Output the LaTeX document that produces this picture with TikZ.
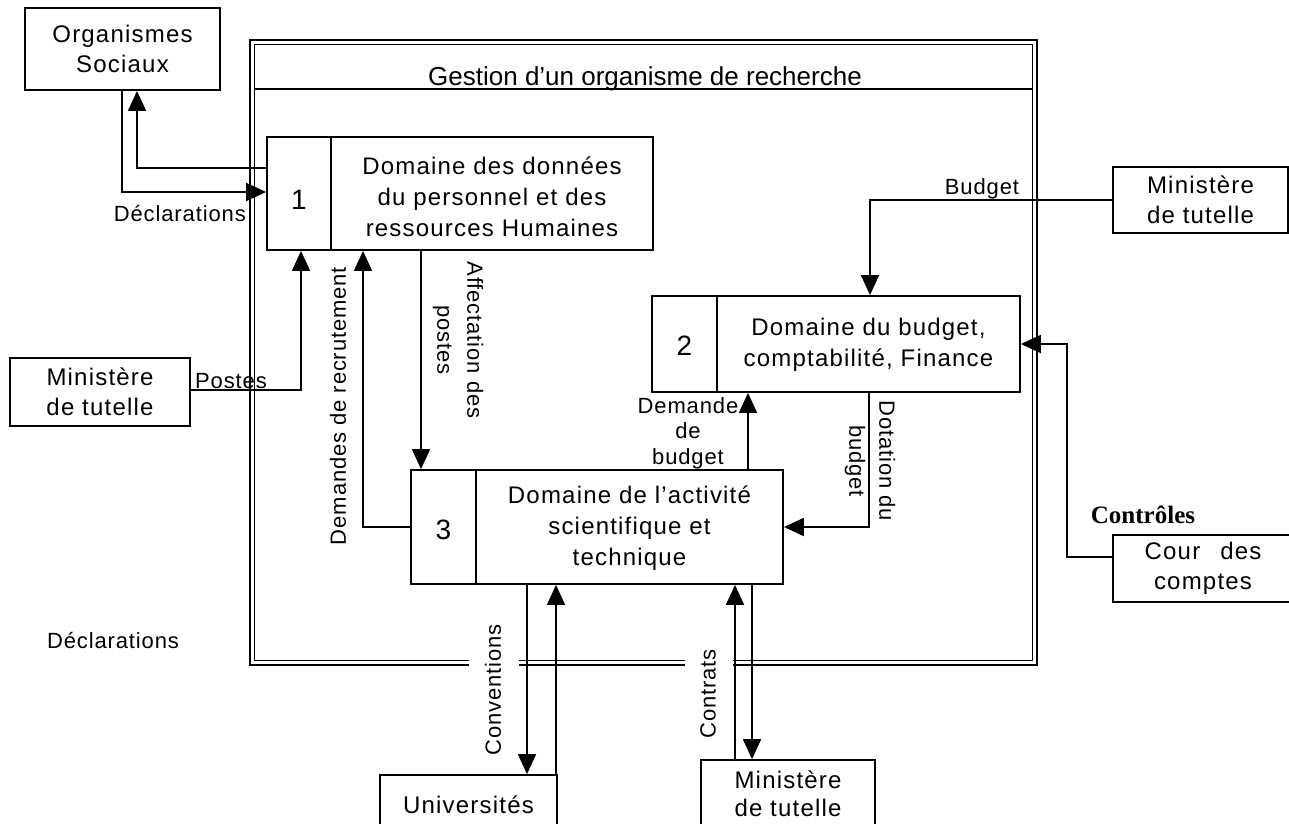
\documentclass[tikz,border=0pt]{standalone}
\usepackage{fontspec}
\setmainfont{Liberation Sans}
\newfontfamily\boxfont[LetterSpace=5]{Liberation Sans}
\newfontfamily\lblfont[LetterSpace=4]{Liberation Sans}
\newfontfamily\ctrlfont{Liberation Serif}
\usetikzlibrary{arrows.meta}

\tikzset{
  entity/.style={draw, line width=1.8pt, inner sep=0pt, align=center,
    font=\boxfont\fontsize{24}{30}\selectfont},
  procbox/.style={draw, line width=1.8pt, inner sep=0pt},
  boxtext/.style={inner sep=0pt, align=center, font=\boxfont\fontsize{24}{31}\selectfont},
  numtext/.style={inner sep=0pt, font=\fontsize{28}{30}\selectfont},
  flow/.style={line width=1.8pt, -{Triangle[length=20pt,width=18pt]}},
  lbl/.style={inner sep=0pt, align=center, font=\lblfont\fontsize{22}{30}\selectfont},
  frame/.style={line width=1.3pt},
}

\begin{document}
\begin{tikzpicture}[x=1pt, y=-1pt]
\path[use as bounding box, clip] (0,0) rectangle (1289,823);
\fill[white] (0,0) rectangle (1289,823);

% system frame (double line, open where the bottom flows pass)
\draw[frame] (469,665) -| (250,40) -| (1037,665) -- (733,665);
\draw[frame] (519,665) -- (685,665);
\draw[frame] (469,660.5) -| (254.5,44.5) -| (1032.5,660.5) -- (733,660.5);
\draw[frame] (519,660.5) -- (685,660.5);
\draw[frame] (254.5,89) -- (1032.5,89);
\node[inner sep=0pt, anchor=base, font=\fontsize{26}{28}\selectfont] (title) at (645,85)
  {Gestion d’un organisme de recherche};

% external entities
\node[entity, minimum width=195pt, minimum height=82pt] (org) at (122.5,49) {Organismes\\Sociaux};
\node[entity, minimum width=180pt, minimum height=68pt] (mt1) at (100,392) {Ministère\\de tutelle};
\node[entity, minimum width=175pt, minimum height=66pt] (mt2) at (1200.5,200) {Ministère\\de tutelle};
\node[entity, minimum width=180pt, minimum height=67pt] (cour) at (1203,568.5) {Cour\hspace{20pt}des\\comptes};
\node[entity, minimum width=177pt, minimum height=60pt] (univ) at (468.5,805) {Universités};
\node[entity, minimum width=174pt, minimum height=68pt,
  font=\boxfont\fontsize{24}{28}\selectfont] (mt3) at (788,794) {Ministère\\de tutelle};

% processes
\node[procbox, minimum width=386pt, minimum height=113pt] (b1) at (460,193.5) {};
\draw[line width=1.8pt] (b1.north -| 331,0) -- (b1.south -| 331,0);
\node[numtext] (n1) at (299,200) {1};
\node[boxtext] (t1) at (492,197) {Domaine des données\\du personnel et des\\ressources Humaines};

\node[procbox, minimum width=368pt, minimum height=96pt] (b2) at (836,344) {};
\draw[line width=1.8pt] (b2.north -| 717,0) -- (b2.south -| 717,0);
\node[numtext] (n2) at (684.5,346) {2};
\node[boxtext] (t2) at (868.5,345) {Domaine du budget,\\comptabilité, Finance};

\node[procbox, minimum width=372pt, minimum height=114pt] (b3) at (597,527) {};
\draw[line width=1.8pt] (b3.north -| 476,0) -- (b3.south -| 476,0);
\node[numtext] (n3) at (443.5,530) {3};
\node[boxtext] (t3) at (629.5,528) {Domaine de l’activité\\scientifique et\\technique};

% flows
\draw[flow] (b1.west |- 0,168) -| (org.south -| 137,0);
\draw[flow] (org.south -| 122,0) |- (b1.west |- 0,192);
\draw[flow] (mt1.east |- 0,390) -| (b1.south -| 301,0);
\draw[flow] (b3.west) -| (b1.south -| 363,0);
\draw[flow] (b1.south -| 421,0) -- (b3.north -| 421,0);
\draw[flow] (mt2.west) -| (b2.north -| 870,0);
\draw[flow] (b3.north -| 748,0) -- (b2.south -| 748,0);
\draw[flow] (b2.south -| 869,0) |- (b3.east);
\draw[flow] (cour.west |- 0,557) -| (b2.east -| 1067,0) -- (b2.east);
\draw[flow] (b3.south -| 527,0) -- (univ.north -| 527,0);
\draw[flow] (univ.north -| 556,0) -- (b3.south -| 556,0);
\draw[flow] (mt3.north -| 735,0) -- (b3.south -| 735,0);
\draw[flow] (b3.south -| 752,0) -- (mt3.north -| 752,0);

% flow labels
\node[lbl, anchor=east] (ldecl) at (246,213) {Déclarations};
\node[lbl] (lpostes) at (231,381) {Postes};
\node[lbl, rotate=90] (lrecr) at (338,406) {Demandes de recrutement};
\node[lbl, rotate=-90] (laff) at (458,340) {Affectation des\\postes};
\node[lbl, font=\lblfont\fontsize{22}{25.5}\selectfont] (ldem) at (688,433) {Demande\\de\\budget};
\node[lbl, rotate=-90] (ldot) at (870,461) {Dotation du\\budget};
\node[lbl] (lbud) at (982,189) {Budget};
\node[inner sep=0pt, font=\ctrlfont\bfseries\fontsize{25}{28}\selectfont] (lctrl) at (1143,515) {Contrôles};
\node[lbl, rotate=90] (lconv) at (493,690) {Conventions};
\node[lbl, rotate=90] (lcontr) at (708,694) {Contrats};
\node[lbl] (ldecl2) at (113,640) {Déclarations};
\end{tikzpicture}
\end{document}
